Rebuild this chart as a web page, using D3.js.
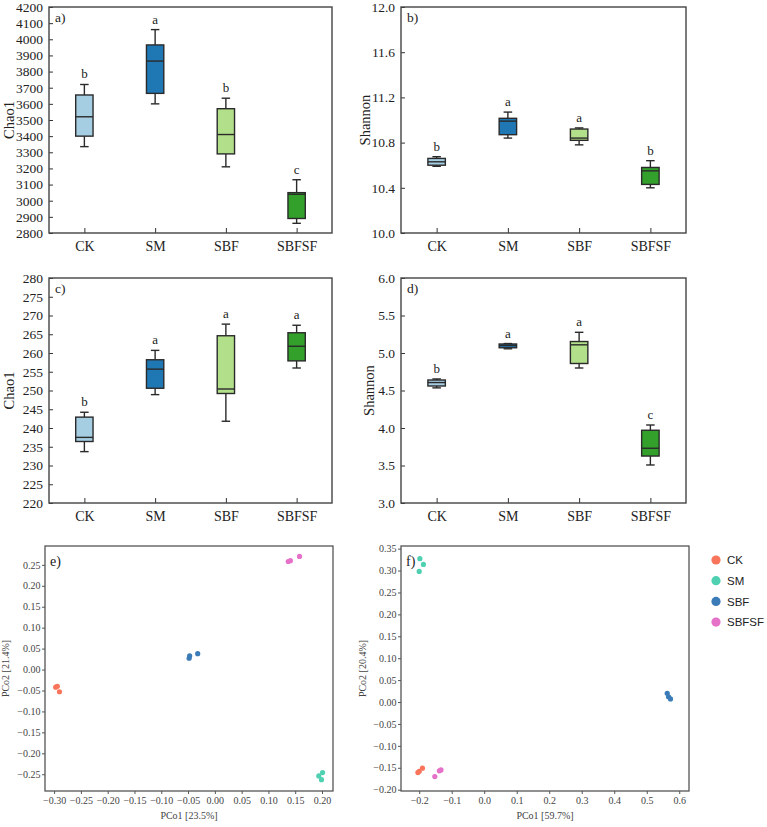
<!DOCTYPE html>
<html><head><meta charset="utf-8">
<script src="https://cdn.jsdelivr.net/npm/d3@7"></script>
<style>body{margin:0;background:#fff}svg{display:block}</style>
</head><body>
<svg id="c" width="767" height="827"></svg>
<script>
// ---------- data ----------
const categories = ["CK", "SM", "SBF", "SBFSF"];
// box stats: [lower whisker, Q1, median, Q3, upper whisker]
const chao1A   = [[3335,3400,3520,3655,3720],[3600,3665,3865,3965,4060],[3210,3290,3410,3570,3635],[2860,2890,3040,3050,3130]];
const shannonB = [[10.59,10.60,10.63,10.66,10.675],[10.84,10.87,10.99,11.015,11.07],[10.78,10.82,10.84,10.92,10.93],[10.40,10.43,10.55,10.58,10.64]];
const chao1C   = [[233.7,236.4,237.5,242.9,244.2],[248.9,250.6,255.7,258.2,260.7],[241.8,249.2,250.4,264.6,267.7],[256.0,257.9,261.8,265.4,267.4]];
const shannonD = [[4.535,4.56,4.606,4.64,4.654],[5.056,5.07,5.10,5.12,5.126],[4.80,4.86,5.109,5.153,5.276],[3.507,3.626,3.73,3.97,4.04]];
const lettersA = ["b","a","b","c"];
const lettersB = ["b","a","a","b"];
const lettersC = ["b","a","a","a"];
const lettersD = ["b","a","a","c"];
const ticksA = [2800,2900,3000,3100,3200,3300,3400,3500,3600,3700,3800,3900,4000,4100,4200];
const ticksB = [10.0,10.4,10.8,11.2,11.6,12.0];
const ticksC = [220,225,230,235,240,245,250,255,260,265,270,275,280];
const ticksD = [3.0,3.5,4.0,4.5,5.0,5.5,6.0];
const boxColors = ["#a6cee3","#1f78b4","#b2df8a","#33a02c"];

const groups = ["CK","SM","SBF","SBFSF"];
const groupColors = ["#f8745a","#4fd1b1","#3b7bb7","#e671c9"];
// PCoA e)
const pcoaE_CK    = [[-0.297,-0.042],[-0.294,-0.040],[-0.290,-0.053]];
const pcoaE_SM    = [[0.194,-0.254],[0.201,-0.246],[0.199,-0.263]];
const pcoaE_SBF   = [[-0.048,0.027],[-0.047,0.033],[-0.032,0.038]];
const pcoaE_SBFSF = [[0.137,0.258],[0.141,0.260],[0.158,0.270]];
// PCoA f)
const pcoaF_CK    = [[-0.204,-0.161],[-0.200,-0.158],[-0.190,-0.151]];
const pcoaF_SM    = [[-0.198,0.327],[-0.187,0.314],[-0.200,0.298]];
const pcoaF_SBF   = [[0.563,0.020],[0.567,0.012],[0.573,0.007]];
const pcoaF_SBFSF = [[-0.152,-0.170],[-0.138,-0.157],[-0.133,-0.155]];
const ticksEx = [-0.30,-0.25,-0.20,-0.15,-0.10,-0.05,0.00,0.05,0.10,0.15,0.20];
const ticksEy = [-0.25,-0.20,-0.15,-0.10,-0.05,0.00,0.05,0.10,0.15,0.20,0.25];
const ticksFx = [-0.2,-0.1,0.0,0.1,0.2,0.3,0.4,0.5,0.6];
const ticksFy = [-0.20,-0.15,-0.10,-0.05,0.00,0.05,0.10,0.15,0.20,0.25,0.30,0.35];

// ---------- drawing ----------
const svg = d3.select("#c");
const serif = "'Liberation Serif','Times New Roman',serif";
const sans = "'Liberation Sans',Arial,sans-serif";
const minus = s => s.replace("-", "\u2212");

function boxPanel(o){
  const g = svg.append("g");
  const x = d3.scaleBand().domain(categories).range([o.x0,o.x1]);
  const y = d3.scaleLinear().domain(o.domain).range([o.y1,o.y0]);
  const bw = x.bandwidth()*0.245, cw = x.bandwidth()*0.12;
  g.append("g").attr("transform",`translate(${o.x0},0)`)
    .call(d3.axisLeft(y).tickValues(o.ticks).tickFormat(o.fmt).tickSize(-4).tickPadding(6))
    .call(a=>{a.select(".domain").remove();
      a.selectAll("line").attr("stroke","#333");
      a.selectAll("text").attr("font-family",serif).attr("font-size",13.5).attr("fill","#222");});
  g.append("g").attr("transform",`translate(0,${o.y1})`)
    .call(d3.axisBottom(d3.scalePoint().domain(categories).range([x(categories[0])+x.bandwidth()/2, x(categories[3])+x.bandwidth()/2]))
      .tickSize(-5).tickPadding(8))
    .call(a=>{a.select(".domain").remove();
      a.selectAll("line").attr("stroke","#333");
      a.selectAll("text").attr("font-family",serif).attr("font-size",14).attr("fill","#222");});
  o.data.forEach((d,i)=>{
    const cx = x(categories[i]) + x.bandwidth()/2;
    const s = "#2a2a2a", sw = 1.4;
    g.append("line").attr("x1",cx).attr("x2",cx).attr("y1",y(d[0])).attr("y2",y(d[1])).attr("stroke",s).attr("stroke-width",sw);
    g.append("line").attr("x1",cx).attr("x2",cx).attr("y1",y(d[3])).attr("y2",y(d[4])).attr("stroke",s).attr("stroke-width",sw);
    g.append("line").attr("x1",cx-cw/2).attr("x2",cx+cw/2).attr("y1",y(d[0])).attr("y2",y(d[0])).attr("stroke",s).attr("stroke-width",sw);
    g.append("line").attr("x1",cx-cw/2).attr("x2",cx+cw/2).attr("y1",y(d[4])).attr("y2",y(d[4])).attr("stroke",s).attr("stroke-width",sw);
    g.append("rect").attr("x",cx-bw/2).attr("width",bw).attr("y",y(d[3])).attr("height",y(d[1])-y(d[3]))
      .attr("fill",boxColors[i]).attr("stroke",s).attr("stroke-width",sw);
    g.append("line").attr("x1",cx-bw/2).attr("x2",cx+bw/2).attr("y1",y(d[2])).attr("y2",y(d[2])).attr("stroke",s).attr("stroke-width",sw);
    g.append("text").attr("x",cx).attr("y",y(d[4])-6).attr("text-anchor","middle")
      .attr("font-family",serif).attr("font-size",13).attr("fill","#222").text(o.letters[i]);
  });
  g.append("rect").attr("x",o.x0).attr("y",o.y0).attr("width",o.x1-o.x0).attr("height",o.y1-o.y0)
    .attr("fill","none").attr("stroke","#444").attr("stroke-width",1.4);
  g.append("text").attr("x",o.x0+6).attr("y",o.y0+15).attr("font-family",serif).attr("font-size",13.5).attr("fill","#222").text(o.tag);
  g.append("text").attr("transform",`translate(${o.ylx},${(o.y0+o.y1)/2}) rotate(-90)`).attr("text-anchor","middle")
    .attr("font-family",serif).attr("font-size",14.5).attr("fill","#222").text(o.ylab);
}

boxPanel({x0:49,x1:332,y0:7,y1:233,domain:[2800,4200],ticks:ticksA,fmt:d3.format("d"),data:chao1A,letters:lettersA,tag:"a)",ylab:"Chao1",ylx:14});
boxPanel({x0:401,x1:686,y0:7,y1:233,domain:[10,12],ticks:ticksB,fmt:d3.format(".1f"),data:shannonB,letters:lettersB,tag:"b)",ylab:"Shannon",ylx:370});
boxPanel({x0:49,x1:332,y0:278,y1:503,domain:[220,280],ticks:ticksC,fmt:d3.format("d"),data:chao1C,letters:lettersC,tag:"c)",ylab:"Chao1",ylx:14});
boxPanel({x0:401,x1:686,y0:278,y1:503,domain:[3,6],ticks:ticksD,fmt:d3.format(".1f"),data:shannonD,letters:lettersD,tag:"d)",ylab:"Shannon",ylx:374});

function pcoaPanel(o){
  const g = svg.append("g");
  const x = d3.scaleLinear().domain(o.xd).range([o.x0,o.x1]);
  const y = d3.scaleLinear().domain(o.yd).range([o.y1,o.y0]);
  const style = a=>{a.select(".domain").remove();
      a.selectAll("line").attr("stroke","#555");
      a.selectAll("text").attr("font-family",serif).attr("font-size",10).attr("fill","#444");};
  g.append("g").attr("transform",`translate(${o.x0},0)`)
    .call(d3.axisLeft(y).tickValues(o.yt).tickFormat(v=>minus(d3.format(".2f")(v))).tickSize(3).tickPadding(1.5)).call(style);
  g.append("g").attr("transform",`translate(0,${o.y1})`)
    .call(d3.axisBottom(x).tickValues(o.xt).tickFormat(v=>minus(d3.format(o.xf)(v))).tickSize(3).tickPadding(3)).call(style);
  o.sets.forEach((pts,i)=>{
    g.selectAll(null).data(pts).join("circle").attr("cx",d=>x(d[0])).attr("cy",d=>y(d[1])).attr("r",2.6).attr("fill",groupColors[i]);
  });
  g.append("rect").attr("x",o.x0).attr("y",o.y0).attr("width",o.x1-o.x0).attr("height",o.y1-o.y0)
    .attr("fill","none").attr("stroke","#555").attr("stroke-width",1.3);
  g.append("text").attr("x",o.x0+5).attr("y",o.y0+20).attr("font-family",serif).attr("font-size",14).attr("fill","#222").text(o.tag);
  g.append("text").attr("x",(o.x0+o.x1)/2).attr("y",o.y1+28).attr("text-anchor","middle")
    .attr("font-family",serif).attr("font-size",10).attr("fill","#444").text(o.xlab);
  g.append("text").attr("transform",`translate(${o.ylx},${(o.y0+o.y1)/2}) rotate(-90)`).attr("text-anchor","middle")
    .attr("font-family",serif).attr("font-size",10).attr("fill","#444").text(o.ylab);
}

pcoaPanel({x0:45,x1:333,y0:546,y1:791,xd:[-0.317,0.2205],yd:[-0.29,0.295],xt:ticksEx,yt:ticksEy,xf:".2f",
  sets:[pcoaE_CK,pcoaE_SM,pcoaE_SBF,pcoaE_SBFSF],tag:"e)",xlab:"PCo1 [23.5%]",ylab:"PCo2 [21.4%]",ylx:9});
pcoaPanel({x0:401,x1:689,y0:546,y1:791,xd:[-0.256,0.63],yd:[-0.203,0.356],xt:ticksFx,yt:ticksFy,xf:".1f",
  sets:[pcoaF_CK,pcoaF_SM,pcoaF_SBF,pcoaF_SBFSF],tag:"f)",xlab:"PCo1 [59.7%]",ylab:"PCo2 [20.4%]",ylx:366});

// legend
const lg = svg.append("g");
groups.forEach((gname,i)=>{
  const yy = 560 + i*20.7;
  lg.append("circle").attr("cx",716).attr("cy",yy).attr("r",4.6).attr("fill",groupColors[i]);
  lg.append("text").attr("x",727).attr("y",yy+4.2).attr("font-family",sans).attr("font-size",11.5).attr("fill","#222").text(gname);
});
</script>
</body></html>
